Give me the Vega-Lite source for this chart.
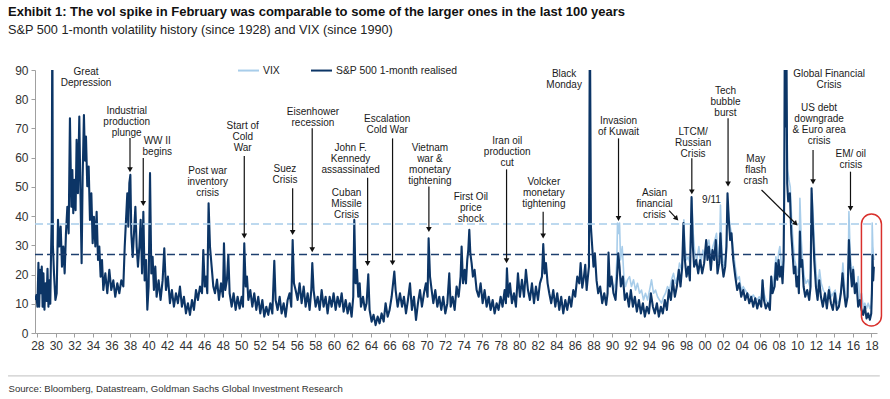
{
  "$schema": "https://vega.github.io/schema/vega-lite/v6.json",
  "width": 842,
  "height": 263,
  "autosize": {"type": "none"},
  "padding": {"left": 35, "top": 70, "right": 13, "bottom": 66},
  "background": "white",
  "title": {
    "text": "Exhibit 1: The vol spike in February was comparable to some of the larger ones in the last 100 years",
    "subtitle": "S&P 500 1-month volatility history (since 1928) and VIX (since 1990)",
    "anchor": "start",
    "frame": "group",
    "dx": -27,
    "offset": 22,
    "font": "Liberation Sans",
    "fontSize": 13,
    "fontWeight": "bold",
    "color": "#111",
    "subtitleFont": "Liberation Sans",
    "subtitleFontSize": 12.7,
    "subtitleColor": "#222",
    "subtitlePadding": 5
  },
  "datasets": {
    "vix": [
      {"t":1990.00,"v":18.0},{"t":1990.17,"v":14.7},{"t":1990.39,"v":17.0},{"t":1990.53,"v":25.0},{"t":1990.60,"v":37.6},{"t":1990.71,"v":34.1},{"t":1990.82,"v":37.6},{"t":1990.93,"v":25.0},
      {"t":1991.11,"v":29.6},{"t":1991.29,"v":19.3},{"t":1991.47,"v":15.9},{"t":1991.68,"v":18.2},{"t":1991.90,"v":19.3},{"t":1992.11,"v":15.9},{"t":1992.33,"v":18.2},{"t":1992.55,"v":14.7},
      {"t":1992.76,"v":17.0},{"t":1992.98,"v":13.6},{"t":1993.19,"v":14.7},{"t":1993.41,"v":11.3},{"t":1993.62,"v":13.6},{"t":1993.84,"v":11.3},{"t":1994.06,"v":14.7},{"t":1994.27,"v":18.2},
      {"t":1994.49,"v":13.6},{"t":1994.70,"v":14.7},{"t":1994.92,"v":12.4},{"t":1995.13,"v":11.3},{"t":1995.35,"v":10.2},{"t":1995.57,"v":12.4},{"t":1995.78,"v":13.6},{"t":1996.00,"v":15.9},
      {"t":1996.21,"v":14.7},{"t":1996.43,"v":18.2},{"t":1996.64,"v":20.4},{"t":1996.86,"v":17.0},{"t":1997.08,"v":19.3},{"t":1997.29,"v":23.9},{"t":1997.51,"v":21.6},{"t":1997.65,"v":26.1},
      {"t":1997.76,"v":38.7},{"t":1997.87,"v":29.6},{"t":1998.05,"v":25.0},{"t":1998.23,"v":26.1},{"t":1998.41,"v":23.9},{"t":1998.52,"v":34.1},{"t":1998.62,"v":46.1},{"t":1998.77,"v":34.1},
      {"t":1998.95,"v":27.3},{"t":1999.16,"v":25.0},{"t":1999.38,"v":29.6},{"t":1999.59,"v":23.9},{"t":1999.81,"v":28.4},{"t":2000.02,"v":25.0},{"t":2000.24,"v":29.6},{"t":2000.46,"v":31.8},
      {"t":2000.67,"v":26.1},{"t":2000.89,"v":29.6},{"t":2001.10,"v":31.8},{"t":2001.28,"v":34.1},{"t":2001.46,"v":26.1},{"t":2001.61,"v":27.3},{"t":2001.71,"v":43.8},{"t":2001.86,"v":28.4},
      {"t":2002.04,"v":22.7},{"t":2002.22,"v":25.0},{"t":2002.36,"v":31.8},{"t":2002.47,"v":44.4},{"t":2002.61,"v":39.8},{"t":2002.76,"v":36.4},{"t":2002.90,"v":34.1},{"t":2003.09,"v":28.4},
      {"t":2003.31,"v":22.7},{"t":2003.52,"v":18.2},{"t":2003.74,"v":19.3},{"t":2003.95,"v":14.7},{"t":2004.17,"v":15.9},{"t":2004.38,"v":14.7},{"t":2004.60,"v":13.6},{"t":2004.82,"v":13.0},
      {"t":2005.03,"v":11.9},{"t":2005.25,"v":13.0},{"t":2005.46,"v":11.9},{"t":2005.68,"v":11.3},{"t":2005.89,"v":12.4},{"t":2006.11,"v":10.8},{"t":2006.25,"v":18.2},{"t":2006.40,"v":13.6},
      {"t":2006.61,"v":11.3},{"t":2006.83,"v":10.2},{"t":2007.04,"v":11.3},{"t":2007.19,"v":19.3},{"t":2007.33,"v":14.7},{"t":2007.55,"v":20.4},{"t":2007.69,"v":26.1},{"t":2007.84,"v":21.6},
      {"t":2007.98,"v":27.3},{"t":2008.12,"v":29.6},{"t":2008.27,"v":23.9},{"t":2008.41,"v":20.4},{"t":2008.52,"v":25.0},{"t":2008.62,"v":59.0},{"t":2008.73,"v":88.0},{"t":2008.84,"v":77.5},
      {"t":2008.95,"v":55.8},{"t":2009.10,"v":52.4},{"t":2009.24,"v":50.0},{"t":2009.38,"v":39.8},{"t":2009.53,"v":31.8},{"t":2009.71,"v":25.0},{"t":2009.89,"v":22.7},{"t":2010.07,"v":20.4},
      {"t":2010.17,"v":18.2},{"t":2010.28,"v":46.1},{"t":2010.43,"v":31.8},{"t":2010.57,"v":25.0},{"t":2010.75,"v":19.3},{"t":2010.93,"v":17.0},{"t":2011.14,"v":18.2},{"t":2011.36,"v":15.9},
      {"t":2011.47,"v":22.7},{"t":2011.58,"v":47.8},{"t":2011.72,"v":39.8},{"t":2011.86,"v":29.6},{"t":2012.04,"v":20.4},{"t":2012.22,"v":15.9},{"t":2012.40,"v":21.6},{"t":2012.58,"v":17.0},
      {"t":2012.80,"v":14.7},{"t":2013.01,"v":13.6},{"t":2013.23,"v":11.3},{"t":2013.45,"v":15.9},{"t":2013.66,"v":12.4},{"t":2013.88,"v":13.6},{"t":2014.09,"v":14.7},{"t":2014.31,"v":10.2},
      {"t":2014.52,"v":10.8},{"t":2014.74,"v":14.7},{"t":2014.92,"v":23.9},{"t":2015.10,"v":15.9},{"t":2015.28,"v":11.3},{"t":2015.46,"v":12.4},{"t":2015.57,"v":41.6},{"t":2015.71,"v":27.3},
      {"t":2015.89,"v":19.3},{"t":2016.03,"v":22.7},{"t":2016.21,"v":15.9},{"t":2016.39,"v":14.7},{"t":2016.57,"v":19.3},{"t":2016.75,"v":11.3},{"t":2016.93,"v":13.6},{"t":2017.11,"v":9.0},
      {"t":2017.29,"v":10.2},{"t":2017.47,"v":8.4},{"t":2017.65,"v":10.2},{"t":2017.83,"v":8.4},{"t":2017.98,"v":9.6},{"t":2018.05,"v":15.9},{"t":2018.08,"v":37.6},{"t":2018.15,"v":29.6},
      {"t":2018.26,"v":25.0}
    ],
    "sp": [
      {"t":1927.78,"v":11.3},{"t":1927.90,"v":13.0},{"t":1928.01,"v":9.0},{"t":1928.12,"v":24.0},{"t":1928.20,"v":9.0},{"t":1928.30,"v":21.6},{"t":1928.40,"v":13.6},{"t":1928.48,"v":22.7},
      {"t":1928.57,"v":9.0},{"t":1928.66,"v":20.4},{"t":1928.77,"v":8.0},{"t":1928.88,"v":17.0},{"t":1929.00,"v":11.0},{"t":1929.10,"v":22.0},{"t":1929.20,"v":9.0},{"t":1929.30,"v":18.0},
      {"t":1929.40,"v":10.0},{"t":1929.47,"v":25.0},{"t":1929.55,"v":38.7},{"t":1929.62,"v":110},{"t":1929.68,"v":30.0},{"t":1929.80,"v":20.4},{"t":1929.95,"v":11.3},{"t":1930.09,"v":13.6},
      {"t":1930.23,"v":38.7},{"t":1930.37,"v":29.6},{"t":1930.52,"v":36.4},{"t":1930.66,"v":22.7},{"t":1930.80,"v":29.6},{"t":1930.95,"v":20.4},{"t":1931.09,"v":34.1},{"t":1931.24,"v":43.2},
      {"t":1931.38,"v":34.1},{"t":1931.52,"v":73.5},{"t":1931.67,"v":43.2},{"t":1931.78,"v":55.8},{"t":1931.88,"v":41.0},{"t":1931.99,"v":52.4},{"t":1932.13,"v":42.0},{"t":1932.24,"v":66.1},
      {"t":1932.38,"v":47.8},{"t":1932.53,"v":74.1},{"t":1932.64,"v":50.2},{"t":1932.78,"v":23.9},{"t":1932.89,"v":53.5},{"t":1933.03,"v":74.6},{"t":1933.14,"v":59.0},{"t":1933.25,"v":67.2},
      {"t":1933.39,"v":50.2},{"t":1933.54,"v":57.0},{"t":1933.68,"v":38.7},{"t":1933.83,"v":47.8},{"t":1933.97,"v":30.7},{"t":1934.11,"v":39.8},{"t":1934.26,"v":29.6},{"t":1934.40,"v":41.5},
      {"t":1934.55,"v":25.0},{"t":1934.69,"v":29.6},{"t":1934.83,"v":19.3},{"t":1934.98,"v":25.0},{"t":1935.12,"v":14.7},{"t":1935.34,"v":20.4},{"t":1935.55,"v":13.6},{"t":1935.77,"v":21.6},
      {"t":1935.98,"v":14.7},{"t":1936.20,"v":18.0},{"t":1936.41,"v":12.4},{"t":1936.63,"v":17.0},{"t":1936.85,"v":13.6},{"t":1937.06,"v":18.0},{"t":1937.28,"v":15.9},{"t":1937.43,"v":29.6},
      {"t":1937.57,"v":38.7},{"t":1937.71,"v":47.8},{"t":1937.82,"v":36.4},{"t":1937.93,"v":51.3},{"t":1938.04,"v":54.1},{"t":1938.14,"v":34.1},{"t":1938.29,"v":26.0},{"t":1938.43,"v":34.1},
      {"t":1938.58,"v":43.2},{"t":1938.72,"v":29.6},{"t":1938.86,"v":22.7},{"t":1939.01,"v":29.6},{"t":1939.15,"v":38.7},{"t":1939.30,"v":20.4},{"t":1939.44,"v":41.5},{"t":1939.58,"v":18.0},
      {"t":1939.73,"v":25.0},{"t":1939.87,"v":8.0},{"t":1940.01,"v":15.9},{"t":1940.16,"v":54.7},{"t":1940.30,"v":20.4},{"t":1940.44,"v":26.1},{"t":1940.58,"v":14.7},{"t":1940.73,"v":22.7},
      {"t":1940.87,"v":12.4},{"t":1941.09,"v":18.0},{"t":1941.30,"v":11.3},{"t":1941.52,"v":18.0},{"t":1941.70,"v":29.0},{"t":1941.88,"v":14.7},{"t":1942.09,"v":19.3},{"t":1942.31,"v":10.2},
      {"t":1942.52,"v":14.7},{"t":1942.74,"v":9.0},{"t":1942.96,"v":13.6},{"t":1943.17,"v":10.2},{"t":1943.39,"v":15.9},{"t":1943.60,"v":9.0},{"t":1943.82,"v":12.4},{"t":1944.04,"v":6.7},
      {"t":1944.25,"v":10.2},{"t":1944.47,"v":6.2},{"t":1944.69,"v":11.3},{"t":1944.90,"v":7.9},{"t":1945.12,"v":14.7},{"t":1945.33,"v":11.3},{"t":1945.55,"v":15.9},{"t":1945.77,"v":13.6},
      {"t":1945.91,"v":28.4},{"t":1946.06,"v":15.9},{"t":1946.20,"v":19.3},{"t":1946.34,"v":13.6},{"t":1946.48,"v":44.4},{"t":1946.63,"v":29.6},{"t":1946.81,"v":22.7},{"t":1946.99,"v":15.9},
      {"t":1947.17,"v":13.6},{"t":1947.39,"v":18.3},{"t":1947.60,"v":11.3},{"t":1947.82,"v":17.0},{"t":1948.03,"v":12.4},{"t":1948.14,"v":30.7},{"t":1948.28,"v":14.7},{"t":1948.46,"v":18.2},
      {"t":1948.61,"v":26.7},{"t":1948.75,"v":13.6},{"t":1948.97,"v":9.0},{"t":1949.18,"v":13.6},{"t":1949.40,"v":7.9},{"t":1949.61,"v":12.4},{"t":1949.83,"v":8.4},{"t":1950.05,"v":12.4},
      {"t":1950.19,"v":9.0},{"t":1950.33,"v":30.7},{"t":1950.48,"v":15.9},{"t":1950.62,"v":19.3},{"t":1950.77,"v":11.3},{"t":1950.98,"v":14.7},{"t":1951.20,"v":9.0},{"t":1951.41,"v":13.6},
      {"t":1951.63,"v":7.9},{"t":1951.84,"v":12.4},{"t":1952.06,"v":6.7},{"t":1952.28,"v":11.3},{"t":1952.49,"v":5.6},{"t":1952.71,"v":9.0},{"t":1952.92,"v":6.2},{"t":1953.14,"v":10.2},
      {"t":1953.36,"v":6.7},{"t":1953.57,"v":24.7},{"t":1953.71,"v":11.3},{"t":1953.93,"v":7.9},{"t":1954.15,"v":12.4},{"t":1954.36,"v":6.7},{"t":1954.58,"v":10.2},{"t":1954.79,"v":5.6},
      {"t":1955.01,"v":11.3},{"t":1955.22,"v":13.6},{"t":1955.40,"v":9.0},{"t":1955.55,"v":31.8},{"t":1955.69,"v":17.0},{"t":1955.87,"v":14.7},{"t":1956.09,"v":11.3},{"t":1956.30,"v":17.0},
      {"t":1956.52,"v":10.2},{"t":1956.74,"v":15.9},{"t":1956.95,"v":9.0},{"t":1957.17,"v":13.6},{"t":1957.38,"v":7.9},{"t":1957.56,"v":14.7},{"t":1957.67,"v":23.9},{"t":1957.81,"v":14.7},
      {"t":1958.03,"v":9.0},{"t":1958.25,"v":12.4},{"t":1958.46,"v":7.9},{"t":1958.68,"v":14.7},{"t":1958.89,"v":9.0},{"t":1959.11,"v":12.4},{"t":1959.32,"v":6.7},{"t":1959.54,"v":12.4},
      {"t":1959.76,"v":9.0},{"t":1959.97,"v":13.6},{"t":1960.19,"v":7.9},{"t":1960.40,"v":12.4},{"t":1960.62,"v":9.0},{"t":1960.84,"v":13.6},{"t":1961.05,"v":7.3},{"t":1961.27,"v":11.3},
      {"t":1961.48,"v":6.7},{"t":1961.70,"v":10.2},{"t":1961.91,"v":5.6},{"t":1962.09,"v":12.4},{"t":1962.20,"v":38.7},{"t":1962.34,"v":17.0},{"t":1962.49,"v":21.6},{"t":1962.63,"v":12.4},
      {"t":1962.78,"v":17.0},{"t":1962.92,"v":9.0},{"t":1963.14,"v":12.4},{"t":1963.35,"v":7.9},{"t":1963.53,"v":10.2},{"t":1963.71,"v":20.1},{"t":1963.85,"v":7.9},{"t":1964.07,"v":3.9},
      {"t":1964.28,"v":6.2},{"t":1964.50,"v":2.7},{"t":1964.72,"v":5.6},{"t":1964.93,"v":3.3},{"t":1965.15,"v":6.7},{"t":1965.37,"v":3.9},{"t":1965.58,"v":10.2},{"t":1965.80,"v":5.6},
      {"t":1966.01,"v":7.9},{"t":1966.23,"v":12.4},{"t":1966.52,"v":21.0},{"t":1966.66,"v":14.7},{"t":1966.88,"v":9.0},{"t":1967.13,"v":13.6},{"t":1967.35,"v":9.0},{"t":1967.56,"v":12.4},
      {"t":1967.78,"v":6.7},{"t":1967.99,"v":11.3},{"t":1968.21,"v":17.0},{"t":1968.42,"v":7.9},{"t":1968.64,"v":12.4},{"t":1968.86,"v":4.5},{"t":1969.07,"v":10.2},{"t":1969.29,"v":14.7},
      {"t":1969.50,"v":9.0},{"t":1969.72,"v":13.6},{"t":1969.93,"v":17.0},{"t":1970.11,"v":12.4},{"t":1970.22,"v":32.4},{"t":1970.37,"v":19.3},{"t":1970.55,"v":14.7},{"t":1970.73,"v":10.2},
      {"t":1970.94,"v":14.7},{"t":1971.16,"v":9.0},{"t":1971.37,"v":12.4},{"t":1971.59,"v":7.9},{"t":1971.80,"v":12.4},{"t":1972.02,"v":6.7},{"t":1972.24,"v":10.2},{"t":1972.45,"v":20.4},
      {"t":1972.60,"v":9.0},{"t":1972.81,"v":12.4},{"t":1973.03,"v":7.9},{"t":1973.24,"v":15.9},{"t":1973.46,"v":12.4},{"t":1973.67,"v":19.3},{"t":1973.78,"v":29.6},{"t":1973.93,"v":17.0},
      {"t":1974.11,"v":21.6},{"t":1974.25,"v":17.0},{"t":1974.39,"v":25.0},{"t":1974.50,"v":28.4},{"t":1974.61,"v":35.3},{"t":1974.72,"v":27.3},{"t":1974.86,"v":23.9},{"t":1975.00,"v":19.3},
      {"t":1975.18,"v":21.6},{"t":1975.40,"v":14.7},{"t":1975.62,"v":12.4},{"t":1975.83,"v":17.0},{"t":1976.05,"v":10.2},{"t":1976.26,"v":14.7},{"t":1976.48,"v":9.0},{"t":1976.70,"v":12.4},
      {"t":1976.91,"v":7.9},{"t":1977.13,"v":11.3},{"t":1977.34,"v":6.7},{"t":1977.56,"v":10.2},{"t":1977.77,"v":7.9},{"t":1977.99,"v":12.4},{"t":1978.20,"v":9.0},{"t":1978.42,"v":14.7},
      {"t":1978.56,"v":10.2},{"t":1978.67,"v":22.1},{"t":1978.82,"v":12.4},{"t":1979.00,"v":17.0},{"t":1979.21,"v":10.2},{"t":1979.43,"v":13.6},{"t":1979.64,"v":9.0},{"t":1979.86,"v":20.4},
      {"t":1980.07,"v":12.4},{"t":1980.29,"v":18.2},{"t":1980.51,"v":12.4},{"t":1980.72,"v":21.6},{"t":1980.94,"v":14.7},{"t":1981.15,"v":11.3},{"t":1981.37,"v":17.0},{"t":1981.59,"v":10.2},
      {"t":1981.80,"v":15.9},{"t":1982.02,"v":11.3},{"t":1982.23,"v":17.0},{"t":1982.45,"v":19.3},{"t":1982.59,"v":30.4},{"t":1982.74,"v":20.4},{"t":1982.88,"v":23.9},{"t":1983.06,"v":17.0},
      {"t":1983.24,"v":13.6},{"t":1983.45,"v":10.2},{"t":1983.67,"v":14.7},{"t":1983.89,"v":9.0},{"t":1984.10,"v":13.6},{"t":1984.32,"v":7.9},{"t":1984.53,"v":12.4},{"t":1984.75,"v":6.7},
      {"t":1984.97,"v":11.3},{"t":1985.18,"v":7.9},{"t":1985.40,"v":12.4},{"t":1985.61,"v":9.0},{"t":1985.83,"v":14.7},{"t":1986.04,"v":12.4},{"t":1986.26,"v":19.3},{"t":1986.48,"v":17.0},
      {"t":1986.62,"v":23.9},{"t":1986.80,"v":15.5},{"t":1986.98,"v":19.3},{"t":1987.12,"v":23.3},{"t":1987.27,"v":14.7},{"t":1987.40,"v":19.0},{"t":1987.52,"v":22.7},{"t":1987.62,"v":110},
      {"t":1987.73,"v":36.4},{"t":1987.87,"v":29.6},{"t":1988.01,"v":22.7},{"t":1988.16,"v":27.3},{"t":1988.34,"v":18.0},{"t":1988.52,"v":13.6},{"t":1988.73,"v":15.9},{"t":1988.95,"v":10.2},
      {"t":1989.17,"v":13.6},{"t":1989.38,"v":9.6},{"t":1989.53,"v":13.6},{"t":1989.63,"v":27.5},{"t":1989.78,"v":15.9},{"t":1989.96,"v":19.3},{"t":1990.17,"v":13.6},{"t":1990.39,"v":11.3},
      {"t":1990.57,"v":20.4},{"t":1990.68,"v":27.3},{"t":1990.82,"v":22.7},{"t":1990.96,"v":15.9},{"t":1991.18,"v":19.3},{"t":1991.39,"v":11.3},{"t":1991.61,"v":13.6},{"t":1991.83,"v":9.0},
      {"t":1992.04,"v":14.7},{"t":1992.26,"v":9.0},{"t":1992.47,"v":12.4},{"t":1992.69,"v":7.3},{"t":1992.91,"v":11.3},{"t":1993.12,"v":6.7},{"t":1993.34,"v":10.2},{"t":1993.55,"v":5.6},
      {"t":1993.77,"v":9.0},{"t":1993.99,"v":6.7},{"t":1994.20,"v":13.6},{"t":1994.42,"v":9.0},{"t":1994.63,"v":6.7},{"t":1994.85,"v":10.2},{"t":1995.06,"v":5.6},{"t":1995.28,"v":9.0},
      {"t":1995.49,"v":6.7},{"t":1995.71,"v":11.3},{"t":1995.93,"v":7.9},{"t":1996.14,"v":14.7},{"t":1996.36,"v":11.3},{"t":1996.57,"v":18.0},{"t":1996.79,"v":12.4},{"t":1997.00,"v":15.9},
      {"t":1997.22,"v":21.6},{"t":1997.40,"v":15.9},{"t":1997.58,"v":22.7},{"t":1997.72,"v":37.6},{"t":1997.87,"v":25.0},{"t":1998.05,"v":19.3},{"t":1998.23,"v":22.7},{"t":1998.41,"v":18.0},
      {"t":1998.59,"v":46.5},{"t":1998.73,"v":29.6},{"t":1998.87,"v":22.7},{"t":1999.09,"v":25.0},{"t":1999.31,"v":20.4},{"t":1999.52,"v":25.0},{"t":1999.74,"v":20.4},{"t":1999.95,"v":23.9},
      {"t":2000.17,"v":31.8},{"t":2000.31,"v":25.0},{"t":2000.46,"v":29.6},{"t":2000.67,"v":21.6},{"t":2000.85,"v":28.4},{"t":2001.03,"v":25.0},{"t":2001.21,"v":31.8},{"t":2001.39,"v":20.4},
      {"t":2001.57,"v":23.9},{"t":2001.71,"v":34.1},{"t":2001.86,"v":23.9},{"t":2002.04,"v":19.3},{"t":2002.22,"v":22.7},{"t":2002.36,"v":29.6},{"t":2002.47,"v":47.8},{"t":2002.61,"v":38.7},
      {"t":2002.76,"v":31.8},{"t":2002.90,"v":34.1},{"t":2003.09,"v":25.0},{"t":2003.31,"v":19.3},{"t":2003.52,"v":14.7},{"t":2003.74,"v":17.0},{"t":2003.95,"v":12.4},{"t":2004.17,"v":14.7},
      {"t":2004.38,"v":11.3},{"t":2004.60,"v":13.6},{"t":2004.82,"v":10.2},{"t":2005.03,"v":12.4},{"t":2005.25,"v":9.0},{"t":2005.46,"v":11.9},{"t":2005.68,"v":8.4},{"t":2005.89,"v":11.3},
      {"t":2006.11,"v":9.0},{"t":2006.25,"v":18.0},{"t":2006.40,"v":11.3},{"t":2006.61,"v":8.4},{"t":2006.83,"v":10.2},{"t":2007.04,"v":7.9},{"t":2007.19,"v":19.3},{"t":2007.33,"v":13.6},
      {"t":2007.55,"v":15.9},{"t":2007.69,"v":23.9},{"t":2007.84,"v":18.2},{"t":2007.98,"v":25.0},{"t":2008.12,"v":19.3},{"t":2008.27,"v":22.7},{"t":2008.41,"v":17.0},{"t":2008.52,"v":25.0},
      {"t":2008.59,"v":47.8},{"t":2008.66,"v":110},{"t":2008.73,"v":70.7},{"t":2008.81,"v":110},{"t":2008.91,"v":51.3},{"t":2009.02,"v":45.0},{"t":2009.20,"v":47.8},{"t":2009.35,"v":34.1},
      {"t":2009.49,"v":27.3},{"t":2009.63,"v":20.4},{"t":2009.78,"v":22.7},{"t":2009.92,"v":15.9},{"t":2010.07,"v":19.3},{"t":2010.17,"v":13.6},{"t":2010.28,"v":34.7},{"t":2010.39,"v":22.7},
      {"t":2010.53,"v":25.0},{"t":2010.68,"v":15.9},{"t":2010.86,"v":12.4},{"t":2011.07,"v":14.7},{"t":2011.29,"v":11.3},{"t":2011.43,"v":15.9},{"t":2011.54,"v":49.5},{"t":2011.68,"v":36.4},
      {"t":2011.83,"v":25.0},{"t":2012.01,"v":15.9},{"t":2012.19,"v":11.3},{"t":2012.37,"v":18.0},{"t":2012.55,"v":12.4},{"t":2012.76,"v":9.0},{"t":2012.98,"v":13.6},{"t":2013.19,"v":8.4},
      {"t":2013.41,"v":14.7},{"t":2013.63,"v":10.2},{"t":2013.84,"v":7.9},{"t":2014.06,"v":13.6},{"t":2014.27,"v":7.9},{"t":2014.49,"v":9.0},{"t":2014.70,"v":13.6},{"t":2014.88,"v":20.4},
      {"t":2015.06,"v":13.6},{"t":2015.24,"v":9.0},{"t":2015.42,"v":12.4},{"t":2015.57,"v":31.8},{"t":2015.71,"v":22.7},{"t":2015.89,"v":15.9},{"t":2016.03,"v":21.6},{"t":2016.21,"v":13.6},
      {"t":2016.39,"v":17.0},{"t":2016.57,"v":9.0},{"t":2016.75,"v":11.3},{"t":2016.93,"v":7.9},{"t":2017.11,"v":6.2},{"t":2017.29,"v":9.0},{"t":2017.47,"v":5.0},{"t":2017.65,"v":6.7},
      {"t":2017.83,"v":4.5},{"t":2017.98,"v":6.7},{"t":2018.05,"v":13.6},{"t":2018.12,"v":26.7},{"t":2018.19,"v":18.0},{"t":2018.26,"v":22.7}
    ],
    "notes": [
      {"t":1933.26,"v":89.2,"label":"Great\nDepression"},
      {"t":1937.64,"v":76.08,"label":"Industrial\nproduction\nplunge"},
      {"t":1940.94,"v":65.6,"label":"WW II\nbegins"},
      {"t":1946.38,"v":55.44,"label":"Post war\ninventory\ncrisis"},
      {"t":1950.16,"v":70.74,"label":"Start of\nCold\nWar"},
      {"t":1954.72,"v":56.13,"label":"Suez\nCrisis"},
      {"t":1957.74,"v":75.74,"label":"Eisenhower\nrecession"},
      {"t":1965.75,"v":73.24,"label":"Escalation\nCold War"},
      {"t":1961.80,"v":63.42,"label":"John F.\nKennedy\nassassinated"},
      {"t":1961.37,"v":48.02,"label":"Cuban\nMissile\nCrisis"},
      {"t":1970.36,"v":63.21,"label":"Vietnam\nwar &\nmonetary\ntightening"},
      {"t":1974.78,"v":46.65,"label":"First Oil\nprice\nshock"},
      {"t":1978.70,"v":65.81,"label":"Iran oil\nproduction\ncut"},
      {"t":1982.65,"v":51.68,"label":"Volcker\nmonetary\ntightening"},
      {"t":1984.84,"v":88.64,"label":"Black\nMonday"},
      {"t":1990.71,"v":72.66,"label":"Invasion\nof Kuwait"},
      {"t":1998.76,"v":68.69,"label":"LTCM/\nRussian\nCrisis"},
      {"t":1994.59,"v":47.81,"label":"Asian\nfinancial\ncrisis"},
      {"t":2000.74,"v":45.52,"label":"9/11"},
      {"t":2002.25,"v":82.92,"label":"Tech\nbubble\nburst"},
      {"t":2005.52,"v":59.65,"label":"May\nflash\ncrash"},
      {"t":2013.43,"v":88.64,"label":"Global  Financial\nCrisis"},
      {"t":2012.35,"v":76.9,"label":"US debt\ndowngrade\n& Euro area\ncrisis"},
      {"t":2015.77,"v":61.16,"label":"EM/ oil\ncrisis"}
    ],
    "arrows": [
      {"t":1938.00,"v":66.7,"t2":1938.00,"v2":55.85},
      {"t":1939.43,"v":59.9,"t2":1939.43,"v2":44.3},
      {"t":1950.33,"v":60.6,"t2":1950.33,"v2":33.2},
      {"t":1955.55,"v":49.5,"t2":1955.55,"v2":34.4},
      {"t":1957.66,"v":70.05,"t2":1957.66,"v2":28.5},
      {"t":1966.33,"v":66.6,"t2":1966.33,"v2":24.0},
      {"t":1963.64,"v":53.15,"t2":1963.64,"v2":23.8},
      {"t":1970.25,"v":50.1,"t2":1970.25,"v2":35.4},
      {"t":1978.63,"v":56.0,"t2":1978.63,"v2":24.7},
      {"t":1982.58,"v":41.5,"t2":1982.58,"v2":33.2},
      {"t":1990.71,"v":66.6,"t2":1990.71,"v2":39.2},
      {"t":1998.62,"v":59.8,"t2":1998.62,"v2":48.3},
      {"t":2002.53,"v":73.5,"t2":2002.53,"v2":51.0},
      {"t":2011.70,"v":62.6,"t2":2011.70,"v2":51.75},
      {"t":2015.74,"v":55.2,"t2":2015.74,"v2":42.6},
      {"t":1996.17,"v":41.86,"t2":1996.98,"v2":39.12},
      {"t":2006.14,"v":48.94,"t2":2009.84,"v2":37.39}
    ],
    "heads": [
      {"t":1938.00,"v":55.85,"a":0},
      {"t":1939.43,"v":44.3,"a":0},
      {"t":1950.33,"v":33.2,"a":0},
      {"t":1955.55,"v":34.4,"a":0},
      {"t":1957.66,"v":28.5,"a":0},
      {"t":1966.33,"v":24.0,"a":0},
      {"t":1963.64,"v":23.8,"a":0},
      {"t":1970.25,"v":35.4,"a":0},
      {"t":1978.63,"v":24.7,"a":0},
      {"t":1982.58,"v":33.2,"a":0},
      {"t":1990.71,"v":39.2,"a":0},
      {"t":1998.62,"v":48.3,"a":0},
      {"t":2002.53,"v":51.0,"a":0},
      {"t":2011.70,"v":51.75,"a":0},
      {"t":2015.74,"v":42.6,"a":0},
      {"t":1996.98,"v":39.12,"a":316.5},
      {"t":2009.84,"v":37.39,"a":314.5}
    ],
    "vixlevel": [{"t":1927.75,"t2":2018.6,"v":37.3}],
    "splevel": [{"t":1927.75,"t2":2018.6,"v":26.9}],
    "ring": [{"t":2016.92,"t2":2019.08,"v":40.7,"v2":2.4}],
    "sep": [{"t":1924.84,"t2":2018.9,"v":-14.7}]
  },
  "encoding": {
    "x": {"field": "t", "type": "quantitative",
      "scale": {"domain": [1927.75, 2018.6], "nice": false, "zero": false},
      "axis": {
        "values": [1928,1930,1932,1934,1936,1938,1940,1942,1944,1946,1948,1950,1952,1954,1956,1958,1960,1962,1964,1966,1968,1970,1972,1974,1976,1978,1980,1982,1984,1986,1988,1990,1992,1994,1996,1998,2000,2002,2004,2006,2008,2010,2012,2014,2016,2018],
        "format": "d",
        "labelExpr": "substring(datum.label, 2, 4)",
        "tickSize": 4,
        "labelPadding": 3,
        "labelOverlap": false,
        "labelFlush": false,
        "grid": false,
        "title": "Source: Bloomberg, Datastream, Goldman Sachs Global Investment Research",
        "titleX": -27,
        "titleY": 55,
        "titleAlign": "left",
        "titleAnchor": "start",
        "titleBaseline": "middle",
        "titleFont": "Liberation Sans",
        "titleFontSize": 9.6,
        "titleFontWeight": "normal",
        "titleColor": "#333"
      }
    },
    "y": {"field": "v", "type": "quantitative",
      "scale": {"domain": [0, 90], "nice": false},
      "axis": {"values": [0,10,20,30,40,50,60,70,80,90], "tickSize": 4, "labelPadding": 3, "labelOverlap": false, "grid": false, "title": null}
    }
  },
  "layer": [
    {
      "data": {"name": "vix"},
      "mark": {"type": "line", "strokeWidth": 1.6, "strokeJoin": "round", "clip": true},
      "encoding": {
        "color": {"datum": "VIX", "type": "nominal",
          "scale": {"domain": ["VIX", "S&P 500 1-month realised"], "range": ["#a8cdea", "#0c3566"]},
          "legend": {
            "orient": "none", "legendX": 202, "legendY": -11, "direction": "horizontal", "title": null,
            "symbolType": "stroke", "symbolSize": 441, "symbolStrokeWidth": 2,
            "labelFont": "Liberation Sans", "labelFontSize": 10.4, "labelColor": "#222",
            "columnPadding": 27, "labelOffset": 3
          }
        }
      }
    },
    {
      "data": {"name": "sp"},
      "mark": {"type": "line", "strokeWidth": 2.1, "strokeJoin": "round", "clip": true},
      "encoding": {
        "color": {"datum": "S&P 500 1-month realised", "type": "nominal"}
      }
    },
    {
      "data": {"name": "vixlevel"},
      "mark": {"type": "rule", "color": "#a8cdea", "strokeWidth": 1.5, "strokeDash": [8, 4]},
      "encoding": {"x2": {"field": "t2"}}
    },
    {
      "data": {"name": "splevel"},
      "mark": {"type": "rule", "color": "#1d3f6e", "strokeWidth": 1.5, "strokeDash": [8, 4]},
      "encoding": {"x2": {"field": "t2"}}
    },
    {
      "data": {"name": "arrows"},
      "mark": {"type": "rule", "color": "#111", "strokeWidth": 1.2},
      "encoding": {"x2": {"field": "t2"}, "y2": {"field": "v2"}}
    },
    {
      "data": {"name": "heads"},
      "mark": {"type": "point", "shape": "triangle-down", "filled": true, "color": "#111", "size": 32, "opacity": 1},
      "encoding": {"angle": {"field": "a", "type": "quantitative", "scale": null}}
    },
    {
      "data": {"name": "notes"},
      "mark": {"type": "text", "align": "center", "baseline": "middle", "lineBreak": "\n", "font": "Liberation Sans", "fontSize": 10, "lineHeight": 11, "color": "#1a1a1a"},
      "encoding": {"text": {"field": "label"}}
    },
    {
      "data": {"name": "ring"},
      "mark": {"type": "rect", "fill": "transparent", "stroke": "#d9302c", "strokeWidth": 1.5, "cornerRadius": 10},
      "encoding": {"x2": {"field": "t2"}, "y2": {"field": "v2"}}
    },
    {
      "data": {"name": "sep"},
      "mark": {"type": "rule", "color": "#cccccc", "strokeWidth": 1.2},
      "encoding": {"x2": {"field": "t2"}}
    }
  ],
  "config": {
    "view": {"stroke": null},
    "font": "Liberation Sans",
    "axis": {"domainColor": "#a0a0a0", "tickColor": "#a0a0a0", "labelColor": "#333", "labelFont": "Liberation Sans", "labelFontSize": 12, "labelOverlap": false}
  }
}
